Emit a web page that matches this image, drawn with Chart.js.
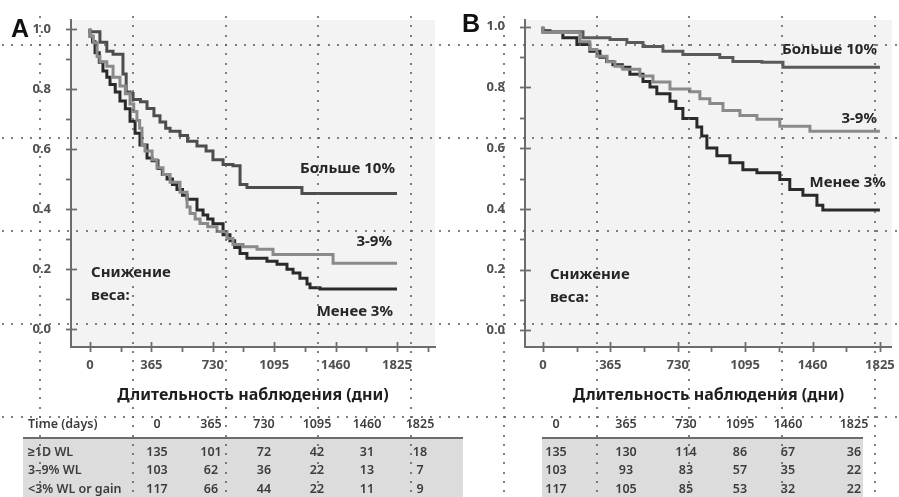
<!DOCTYPE html>
<html>
<head>
<meta charset="utf-8">
<script src="https://cdn.jsdelivr.net/npm/chart.js@4.4.1/dist/chart.umd.min.js"></script>
<style>
  body { margin: 0; background: #fff; }
  #page { position: relative; width: 899px; height: 497px; overflow: hidden; background: #fff; font-family: "Noto Sans", sans-serif; }
  #chart_a { position: absolute; left: 0; top: 0; }
  #chart_b { position: absolute; left: 450px; top: 0; }
  .letter { position: absolute; font-family: "Liberation Sans", Arial, sans-serif; font-weight: 900; font-size: 25px; color: #111; line-height: 25px; }
  .risk { position: absolute; top: 412px; height: 85px; }
  .risk .body { position: absolute; left: 0; right: 0; top: 27px; bottom: 0; background: #dcdcdc; }
  .risk .rule { position: absolute; left: 0; right: 0; top: 25px; height: 2px; background: #6c6c6c; }
  .risk span { position: absolute; font-size: 12.5px; font-weight: 600; color: #3c3c3c; transform: translate(-50%, -50%); white-space: nowrap; }
  .risk span.lbl { transform: translate(0, -50%); }
  #dots { position: absolute; left: 0; top: 0; pointer-events: none; }
</style>
</head>
<body>
<div id="page">
  <canvas id="chart_a" width="450" height="420"></canvas>
  <canvas id="chart_b" width="449" height="420"></canvas>
  <div class="letter" style="left:11px; top:16px;">A</div>
  <div class="letter" style="left:462px; top:11px;">B</div>
  <div class="risk" id="risk_a" style="left:23px; width:440px;"><div class="body"></div><div class="rule"></div></div>
  <div class="risk" id="risk_b" style="left:542px; width:321px;"><div class="body"></div><div class="rule"></div></div>
  <canvas id="dots" width="899" height="497"></canvas>
</div>
<script>
// ---- panel A : survival curves (days, share) ----
const a_more10_days = [0, 59, 100, 137, 196, 215, 238, 256, 300, 339, 380, 416, 450, 476, 535, 580, 636, 690, 731, 791, 850, 892, 933, 1260, 1379, 1825];
const a_more10_surv = [1.0, 0.99, 0.955, 0.925, 0.915, 0.85, 0.79, 0.785, 0.765, 0.757, 0.735, 0.711, 0.69, 0.669, 0.659, 0.645, 0.626, 0.61, 0.593, 0.564, 0.548, 0.544, 0.482, 0.472, 0.452, 0.452];

const a_mid_days = [0, 20, 42, 59, 100, 137, 178, 210, 238, 260, 279, 295, 309, 327, 369, 398, 434, 476, 535, 577, 595, 625, 654, 700, 755, 814, 850, 910, 993, 1088, 1445, 1528, 1825];
const a_mid_surv = [1.0, 0.975, 0.954, 0.908, 0.89, 0.875, 0.839, 0.81, 0.784, 0.75, 0.725, 0.695, 0.669, 0.613, 0.593, 0.564, 0.538, 0.515, 0.489, 0.456, 0.407, 0.385, 0.367, 0.352, 0.341, 0.325, 0.302, 0.282, 0.275, 0.266, 0.249, 0.22, 0.22];

const a_less3_days = [0, 15, 30, 55, 77, 100, 119, 150, 178, 210, 238, 268, 297, 339, 369, 404, 430, 458, 490, 517, 550, 577, 636, 672, 700, 731, 791, 832, 860, 892, 933, 1052, 1112, 1171, 1207, 1248, 1290, 1308, 1367, 1385, 1825];
const a_less3_surv = [1.0, 0.975, 0.957, 0.92, 0.889, 0.86, 0.839, 0.815, 0.79, 0.76, 0.734, 0.692, 0.652, 0.613, 0.57, 0.561, 0.535, 0.515, 0.5, 0.482, 0.465, 0.446, 0.433, 0.397, 0.38, 0.367, 0.351, 0.315, 0.295, 0.272, 0.252, 0.236, 0.226, 0.216, 0.2, 0.187, 0.17, 0.151, 0.138, 0.134, 0.134];

// ---- panel B ----
const b_more10_days = [0, 217, 363, 455, 542, 650, 758, 958, 1029, 1186, 1300, 1392, 1825];
const b_more10_surv = [1.0, 0.984, 0.964, 0.958, 0.948, 0.935, 0.919, 0.909, 0.899, 0.886, 0.883, 0.867, 0.867];

const b_mid_days = [0, 200, 254, 292, 347, 390, 433, 525, 596, 688, 796, 850, 904, 975, 1067, 1159, 1283, 1446, 1538, 1825];
const b_mid_surv = [1.0, 0.981, 0.951, 0.925, 0.903, 0.885, 0.87, 0.86, 0.838, 0.818, 0.795, 0.786, 0.763, 0.747, 0.724, 0.708, 0.695, 0.672, 0.656, 0.656];

const b_less3_days = [0, 38, 108, 184, 254, 309, 345, 379, 430, 471, 542, 580, 617, 688, 720, 758, 834, 860, 888, 942, 1013, 1083, 1159, 1283, 1337, 1408, 1484, 1516, 1570, 1825];
const b_less3_surv = [1.0, 0.987, 0.981, 0.964, 0.942, 0.919, 0.9, 0.886, 0.875, 0.867, 0.844, 0.82, 0.802, 0.779, 0.755, 0.731, 0.698, 0.67, 0.64, 0.601, 0.575, 0.552, 0.529, 0.519, 0.497, 0.464, 0.445, 0.412, 0.396, 0.396];

// ---- axes ----
const x_ticks = [0, 182.5, 365, 547.5, 730, 912.5, 1095, 1277.5, 1460, 1642.5, 1825, 2007.5];
const y_ticks = [0, 0.1, 0.2, 0.3, 0.4, 0.5, 0.6, 0.7, 0.8, 0.9, 1.0];
const x_title = "Длительность наблюдения (дни)";

// ---- labels on the plot ----
const a_notes = [
    { text: "Больше 10%", x: 1813, y: 0.535, align: "right" },
    { text: "3-9%", x: 1795, y: 0.29, align: "right" },
    { text: "Менее 3%", x: 1801, y: 0.06, align: "right" },
    { text: "Снижение", x: 6, y: 0.187, align: "left" },
    { text: "веса:", x: 6, y: 0.111, align: "left" }
];
const b_notes = [
    { text: "Больше 10%", x: 1809, y: 0.925, align: "right" },
    { text: "3-9%", x: 1809, y: 0.698, align: "right" },
    { text: "Менее 3%", x: 1857, y: 0.487, align: "right" },
    { text: "Снижение", x: 38, y: 0.182, align: "left" },
    { text: "веса:", x: 38, y: 0.107, align: "left" }
];

// ---- numbers at risk ----
const risk_times = ["0", "365", "730", "1095", "1460", "1825"];
const risk_labels = ["≥1D WL", "3–9% WL", "<3% WL or gain"];
const a_risk_more10 = [135, 101, 72, 42, 31, 18];
const a_risk_mid = [103, 62, 36, 22, 13, 7];
const a_risk_less3 = [117, 66, 44, 22, 11, 9];
const b_risk_more10 = [135, 130, 114, 86, 67, 36];
const b_risk_mid = [103, 93, 83, 57, 35, 22];
const b_risk_less3 = [117, 105, 85, 53, 32, 22];

function to_points(days, surv) {
    return days.map((d, i) => ({ x: d, y: surv[i] }));
}

function curve(days, surv, color) {
    return {
        data: to_points(days, surv),
        borderColor: color,
        borderWidth: 3,
        pointRadius: 0,
        stepped: "after",
        fill: false
    };
}

const tick_font = { family: "Noto Sans", size: 13, weight: "bold" };

function make_chart(canvas_id, datasets, notes, x_min, x_max, y_min, y_max, axis_width, pad_right) {
    const plot_bg = {
        id: "plot_bg",
        beforeDraw(chart) {
            const a = chart.chartArea;
            chart.ctx.save();
            chart.ctx.fillStyle = "#f3f3f3";
            chart.ctx.fillRect(a.left, a.top, a.right - a.left, a.bottom - a.top);
            chart.ctx.restore();
        }
    };
    const tick_marks = {
        id: "tick_marks",
        afterDraw(chart) {
            const ctx = chart.ctx;
            const xs = chart.scales.x, ys = chart.scales.y;
            ctx.save();
            ctx.strokeStyle = "#6c6c6c";
            ctx.lineWidth = 1.8;
            xs.ticks.forEach(t => {
                const px = Math.round(xs.getPixelForValue(t.value)) + 0.5;
                const major = t.value % 365 === 0;
                ctx.beginPath();
                ctx.moveTo(px, xs.top - (major ? 5 : 0));
                ctx.lineTo(px, xs.top + 5);
                ctx.stroke();
            });
            ys.ticks.forEach(t => {
                const py = Math.round(ys.getPixelForValue(t.value)) + 0.5;
                const major = Math.round(t.value * 10) % 2 === 0;
                ctx.beginPath();
                ctx.moveTo(ys.right - 5, py);
                ctx.lineTo(ys.right + (major ? 6 : 0), py);
                ctx.stroke();
            });
            ctx.restore();
        }
    };
    const plot_notes = {
        id: "plot_notes",
        afterDatasetsDraw(chart) {
            const ctx = chart.ctx;
            const xs = chart.scales.x, ys = chart.scales.y;
            ctx.save();
            ctx.font = 'bold 15px "Noto Sans"';
            ctx.fillStyle = "#262626";
            ctx.textBaseline = "middle";
            notes.forEach(n => {
                ctx.textAlign = n.align;
                ctx.fillText(n.text, xs.getPixelForValue(n.x), ys.getPixelForValue(n.y));
            });
            ctx.restore();
        }
    };

    return new Chart(document.getElementById(canvas_id), {
        type: "line",
        data: { datasets: datasets },
        options: {
            responsive: false,
            animation: false,
            devicePixelRatio: 1,
            layout: { padding: { top: 15, right: pad_right, left: 0, bottom: 0 } },
            plugins: { legend: { display: false }, tooltip: { enabled: false } },
            scales: {
                x: {
                    type: "linear",
                    min: x_min,
                    max: x_max,
                    afterBuildTicks: s => { s.ticks = x_ticks.filter(v => v <= x_max).map(v => ({ value: v })); },
                    afterFit: s => { s.height = 73; },
                    grid: { display: false, drawTicks: true, tickLength: 6 },
                    border: { display: true, color: "#6c6c6c", width: 2 },
                    ticks: {
                        autoSkip: false,
                        maxRotation: 0,
                        padding: 4,
                        color: "#505050",
                        font: tick_font,
                        callback: v => (v % 365 === 0 ? String(v) : "")
                    },
                    title: {
                        display: true,
                        text: x_title,
                        color: "#1e1e1e",
                        font: { family: "Noto Sans", size: 16, weight: "bold" },
                        padding: { top: 0, bottom: 15 }
                    }
                },
                y: {
                    min: y_min,
                    max: y_max,
                    afterBuildTicks: s => { s.ticks = y_ticks.map(v => ({ value: v })); },
                    afterFit: s => { s.width = axis_width; },
                    grid: { display: false, drawTicks: true, tickLength: 8 },
                    border: { display: true, color: "#6c6c6c", width: 2 },
                    ticks: {
                        padding: 12,
                        color: "#505050",
                        font: tick_font,
                        callback: v => (Math.round(v * 10) % 2 === 0 ? v.toFixed(1) : "")
                    }
                }
            }
        },
        plugins: [plot_bg, tick_marks, plot_notes]
    });
}

make_chart("chart_a", [
    curve(a_mid_days, a_mid_surv, "#8a8a8a"),
    curve(a_more10_days, a_more10_surv, "#4d4d4d"),
    curve(a_less3_days, a_less3_surv, "#2a2a2a")
], a_notes, -113, 2051, -0.059, 1.03, 71, 15);

make_chart("chart_b", [
    curve(b_mid_days, b_mid_surv, "#8a8a8a"),
    curve(b_more10_days, b_more10_surv, "#5a5a5a"),
    curve(b_less3_days, b_less3_surv, "#2a2a2a")
], b_notes, -97, 1890, -0.055, 1.023, 75, 7);

// ---- at-risk tables ----
function fill_table(box_id, cols, rows, labels) {
    const box = document.getElementById(box_id);
    const row_y = [39, 57, 76];
    function put(text, x, y, cls) {
        const s = document.createElement("span");
        s.textContent = text;
        if (cls) s.className = cls;
        s.style.left = x + "px";
        s.style.top = y + "px";
        box.appendChild(s);
    }
    if (labels) put("Time (days)", 5, 11, "lbl");
    risk_times.forEach((t, i) => put(t, cols[i], 11));
    rows.forEach((r, j) => {
        if (labels) put(labels[j], 5, row_y[j], "lbl");
        r.forEach((v, i) => put(String(v), cols[i], row_y[j]));
    });
}
fill_table("risk_a", [134, 188, 241, 294, 344, 397], [a_risk_more10, a_risk_mid, a_risk_less3], risk_labels);
fill_table("risk_b", [14, 84, 144, 198, 246, 312], [b_risk_more10, b_risk_mid, b_risk_less3], null);

// ---- dotted overlay grid of the scan ----
const dots = document.getElementById("dots").getContext("2d");
dots.fillStyle = "rgba(95,95,95,0.8)";
for (let i = 0; i < 10; i++) {
    const gx = Math.round(40 + 92.75 * i);
    for (let gy = 17; gy < 497; gy += 9.3) dots.fillRect(gx - 1, Math.round(gy) - 1, 2, 2);
}
for (let j = 0; j < 5; j++) {
    const gy = Math.round(45 + 93 * j);
    for (let gx = 3; gx < 899; gx += 9.3) dots.fillRect(Math.round(gx) - 1, gy - 1, 2, 2);
}
</script>
</body>
</html>
